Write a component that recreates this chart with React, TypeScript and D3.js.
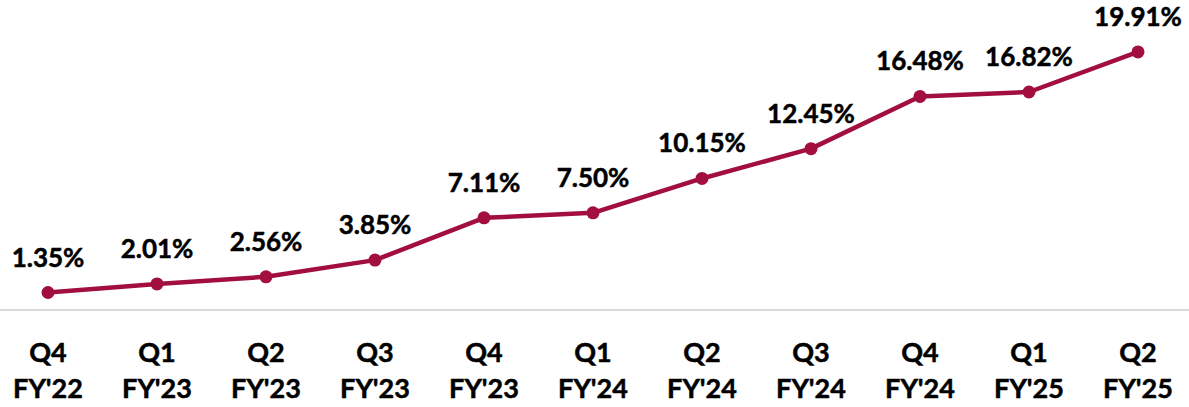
import * as d3 from "d3";
import React, { useEffect, useRef } from "react";

const quarters = ["Q4", "Q1", "Q2", "Q3", "Q4", "Q1", "Q2", "Q3", "Q4", "Q1", "Q2"];
const years = ["FY'22", "FY'23", "FY'23", "FY'23", "FY'23", "FY'24", "FY'24", "FY'24", "FY'24", "FY'25", "FY'25"];
const values = [1.35, 2.01, 2.56, 3.85, 7.11, 7.5, 10.15, 12.45, 16.48, 16.82, 19.91];

function App() {
  const ref = useRef<SVGSVGElement>(null);

  useEffect(() => {
    const width = 1189;
    const height = 407;
    const color = "#A20F3F";
    const font = "Lato, 'Open Sans', sans-serif";

    const svg = d3.select(ref.current);
    svg.selectAll("*").remove();
    svg.attr("width", width).attr("height", height);

    const keys = values.map((_, i) => String(i));
    const x = d3.scalePoint().domain(keys).range([48, 1138]);
    const y = d3.scaleLinear().domain([0, 20]).range([310, 50.8]);

    // baseline
    svg.append("line")
      .attr("x1", 0).attr("x2", width)
      .attr("y1", y(0)).attr("y2", y(0))
      .attr("stroke", "#d9d9d9").attr("stroke-width", 2);

    const line = d3.line<number>()
      .x((_, i) => x(keys[i])!)
      .y(d => y(d));

    svg.append("path")
      .datum(values)
      .attr("d", line)
      .attr("fill", "none")
      .attr("stroke", color)
      .attr("stroke-width", 4.5)
      .attr("stroke-linejoin", "round");

    svg.selectAll("circle.pt")
      .data(values)
      .enter().append("circle")
      .attr("class", "pt")
      .attr("cx", (_, i) => x(keys[i])!)
      .attr("cy", d => y(d))
      .attr("r", 6.5)
      .attr("fill", color);

    svg.selectAll("text.val")
      .data(values)
      .enter().append("text")
      .attr("class", "val")
      .attr("x", (_, i) => x(keys[i])!)
      .attr("y", d => y(d) - 26)
      .attr("text-anchor", "middle")
      .attr("font-family", font)
      .attr("font-weight", "bold")
      .attr("font-size", 26)
      .attr("fill", "#000")
      .attr("stroke", "#000")
      .attr("stroke-width", 0.5)
      .text(d => d.toFixed(2) + "%");

    const cats = svg.selectAll("text.cat")
      .data(keys)
      .enter().append("text")
      .attr("class", "cat")
      .attr("text-anchor", "middle")
      .attr("font-family", font)
      .attr("font-weight", "bold")
      .attr("font-size", 27)
      .attr("fill", "#000")
      .attr("stroke", "#000")
      .attr("stroke-width", 0.5);

    cats.append("tspan")
      .attr("x", d => x(d)!)
      .attr("y", 362)
      .text((_, i) => quarters[i]);
    cats.append("tspan")
      .attr("x", d => x(d)!)
      .attr("y", 398)
      .text((_, i) => years[i]);
  }, []);

  return (
    <div style={{ position: "absolute", left: 0, top: 0 }}>
      <svg ref={ref} style={{ display: "block" }}></svg>
    </div>
  );
}

export default App;
